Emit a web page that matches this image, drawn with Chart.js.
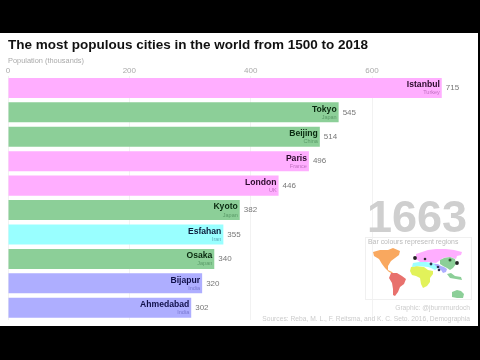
<!DOCTYPE html>
<html lang="en">
<head>
<meta charset="UTF-8">
<title>The most populous cities</title>
<script src="https://cdn.jsdelivr.net/npm/chart.js"></script>
<style>
    html, body { margin: 0; padding: 0; background: #000; overflow: hidden; }
    #page { position: absolute; left: 0; top: 33px; width: 478px; height: 293px; background: #fff; }
    #wrap { position: absolute; left: 0; top: 0; width: 480px; height: 360px; }
    #map { position: absolute; left: 365px; top: 237px; width: 107px; height: 63px; }
</style>
</head>
<body>
<div id="page"></div>
<div id="wrap"><canvas id="chart"></canvas></div>
<svg id="map" viewBox="365 237 107 63">
    <rect x="365.5" y="237.5" width="106" height="62" fill="none" stroke="#f0f0f0"/>
    <path fill="#f9a85f" d="M373 252L380 250 388 250 393 248 400 251 399 255 395 258 391 261 388 266 388 270 392 272 394 274 389 272 385 268 382 264 379 259 374 256z"/>
    <path fill="#e8716d" d="M391 273L397 273 402 276 406 279 404 284 400 287 398 292 395 296 393 295 393 289 392 283 389 278z"/>
    <path fill="#e2f25a" d="M411 267L416 266 424 267 428 270 433 271 433 274 430 278 430 282 427 286 423 288 421 284 420 278 416 276 412 275 410 271z"/>
    <path fill="#9effff" d="M413 263L419 262 426 262 432 263 437 264 438 268 435 270 431 268 428 267 418 266 412 267z"/>
    <path fill="#ffaeff" d="M416 254L422 252 428 250 436 249 446 249 454 250 462 252 461 255 457 256 456 259 450 257 443 258 439 261 436 263 428 262 420 262 416 259z"/>
    <path fill="#8ccf98" d="M440 260L444 258 450 257 455 259 456 264 453 268 450 270 447 268 443 266 440 264z"/>
    <path fill="#aeaeff" d="M434 264L438 264 441 266 444 267 447 269 446 272 443 273 441 270 438 268z"/>
    <path fill="#8ccf98" d="M447 274L451 273 455 276 461 277 462 280 456 279 450 278z"/>
    <path fill="#8ccf98" d="M452 292L457 290 461 291 464 294 463 298 457 298 452 297z"/>
    <circle cx="415" cy="258" r="1.9" fill="#222"/>
    <circle cx="425" cy="259" r="1.3" fill="#333"/>
    <circle cx="431" cy="264" r="1.4" fill="#335"/>
    <circle cx="438" cy="267" r="1.3" fill="#335"/>
    <circle cx="439" cy="270" r="1.3" fill="#335"/>
    <circle cx="450" cy="260" r="1.5" fill="#353"/>
    <circle cx="457" cy="263" r="1.9" fill="#222"/>
</svg>
<script>
const cities = ['Istanbul', 'Tokyo', 'Beijing', 'Paris', 'London', 'Kyoto', 'Esfahan', 'Osaka', 'Bijapur', 'Ahmedabad'];
const countries = ['Turkey', 'Japan', 'China', 'France', 'UK', 'Japan', 'Iran', 'Japan', 'India', 'India'];
const population = [715, 545, 514, 496, 446, 382, 355, 340, 320, 302];
const barColors = ['#ffaeff', '#8ccf98', '#8ccf98', '#ffaeff', '#ffaeff', '#8ccf98', '#99ffff', '#8ccf98', '#aeaeff', '#aeaeff'];
const nameColors = ['#2a0a2a', '#0a2a10', '#0a2a10', '#2a0a2a', '#2a0a2a', '#0a2a10', '#0a1a3a', '#0a2a10', '#10104a', '#10104a'];
const countryColors = ['#c070c0', '#5a9a68', '#5a9a68', '#c070c0', '#c070c0', '#5a9a68', '#60b0c0', '#5a9a68', '#7878d0', '#7878d0'];
const tickValues = [0, 200, 400, 600];

// labels on the bars and the grey notes at the bottom right
const labelPlugin = {
    id: 'labels',
    afterDatasetsDraw(chart) {
        const ctx = chart.ctx;
        const meta = chart.getDatasetMeta(0);
        ctx.save();
        meta.data.forEach((bar, i) => {
            ctx.textBaseline = 'middle';
            ctx.textAlign = 'right';
            ctx.fillStyle = nameColors[i];
            ctx.font = 'bold 8.6px "Liberation Sans"';
            ctx.fillText(cities[i], bar.x - 2, bar.y - 3);
            ctx.fillStyle = countryColors[i];
            ctx.font = '5.5px "Liberation Sans"';
            ctx.fillText(countries[i], bar.x - 2, bar.y + 5);
            ctx.textAlign = 'left';
            ctx.fillStyle = '#777';
            ctx.font = '8px "Liberation Sans"';
            ctx.fillText(population[i], bar.x + 4, bar.y);
        });
        ctx.textBaseline = 'alphabetic';
        ctx.textAlign = 'right';
        ctx.fillStyle = '#cfcfcf';
        ctx.font = 'bold 45px "Liberation Sans"';
        ctx.fillText('1663', 467, 232);
        ctx.textAlign = 'left';
        ctx.fillStyle = '#bbb';
        ctx.font = '6.9px "Liberation Sans"';
        ctx.fillText('Bar colours represent regions', 368, 244);
        ctx.textAlign = 'right';
        ctx.fillStyle = '#ccc';
        ctx.font = '6.7px "Liberation Sans"';
        ctx.fillText('Graphic: @jburnmurdoch', 470, 310);
        ctx.fillText('Sources: Reba, M. L., F. Reitsma, and K. C. Seto. 2016, Demographia', 470, 321);
        ctx.restore();
    }
};

new Chart(document.getElementById('chart').getContext('2d'), {
    type: 'bar',
    data: {
        labels: cities,
        datasets: [{ data: population, backgroundColor: barColors, barPercentage: 0.82, categoryPercentage: 1 }]
    },
    options: {
        indexAxis: 'y',
        responsive: true,
        maintainAspectRatio: false,
        animation: false,
        layout: { padding: { left: 8, right: 17, top: 37, bottom: 40 } },
        plugins: {
            legend: { display: false },
            tooltip: { enabled: false },
            title: {
                display: true,
                text: 'The most populous cities in the world from 1500 to 2018',
                align: 'start',
                color: '#111',
                font: { family: '"Liberation Sans"', size: 13.5, weight: 'bold' },
                padding: { top: 0, bottom: 3 }
            }
        },
        scales: {
            x: {
                position: 'top',
                min: 0,
                max: 750,
                afterBuildTicks(axis) { axis.ticks = tickValues.map(v => ({ value: v })); },
                title: {
                    display: true,
                    text: 'Population (thousands)',
                    align: 'start',
                    color: '#aaa',
                    font: { family: '"Liberation Sans"', size: 7.4 },
                    padding: { top: 0, bottom: 1 }
                },
                ticks: {
                    color: '#aaa',
                    maxRotation: 0,
                    padding: 0,
                    font: { family: '"Liberation Sans"', size: 8 }
                },
                grid: { color: '#f2f2f2', drawTicks: false },
                border: { display: false }
            },
            y: { display: false }
        }
    },
    plugins: [labelPlugin]
});
</script>
</body>
</html>
